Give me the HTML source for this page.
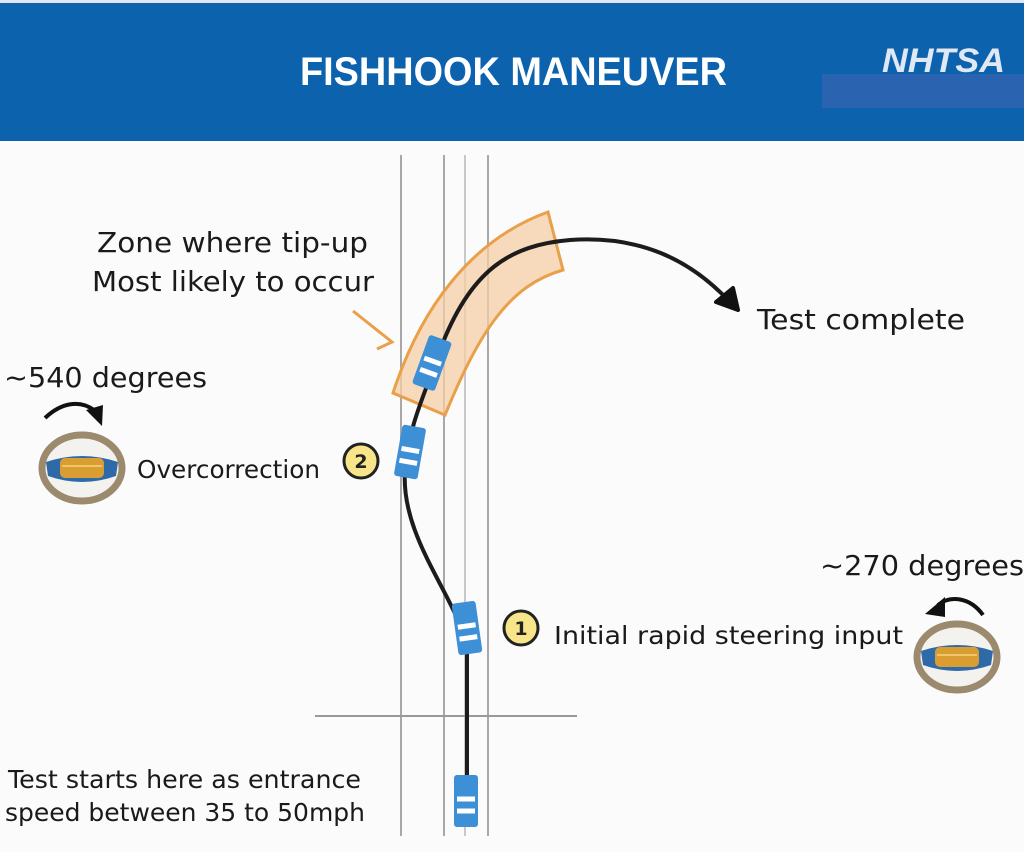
<!DOCTYPE html>
<html><head><meta charset="utf-8"><style>
body{margin:0;width:1024px;height:848px;background:#fbfbfb;overflow:hidden;font-family:"DejaVu Sans","Liberation Sans",sans-serif}
</style></head><body>
<svg width="1024" height="848" viewBox="0 0 1024 848" xmlns="http://www.w3.org/2000/svg">
<rect x="0" y="0" width="1024" height="3" fill="#dfe6ee"/>
<rect x="0" y="3" width="1024" height="138" fill="#0c62ad"/>
<rect x="822" y="74" width="202" height="34" fill="#2a64b0"/>
<text x="300" y="85" font-family="Liberation Sans,sans-serif" font-weight="bold" font-size="40" fill="#fff" textLength="427" lengthAdjust="spacingAndGlyphs">FISHHOOK  MANEUVER</text>
<text x="882" y="72" font-family="Liberation Sans,sans-serif" font-weight="bold" font-style="italic" font-size="34" fill="#dfe8f3" textLength="123" lengthAdjust="spacingAndGlyphs">NHTSA</text>
<g stroke="#a8a8a8" stroke-width="2">
<line x1="401" y1="155" x2="401" y2="836"/>
<line x1="444" y1="155" x2="444" y2="836"/>
<line x1="465" y1="155" x2="465" y2="836" stroke="#c8c8c8"/>
<line x1="488" y1="155" x2="488" y2="836"/>
<line x1="315" y1="716" x2="577" y2="716" stroke="#999"/>
</g>
<path d="M393,393 C420,310 470,240 548,212 L563,270 C510,285 480,330 445,415 Z" fill="#f6cfa6" fill-opacity="0.75" stroke="#e9a04a" stroke-width="3"/>
<path d="M353,311 L392,342 L377,349" fill="none" stroke="#e9a04a" stroke-width="3"/>
<path d="M467,790 L467,650 C460,600 400,540 405,470 C410,420 425,395 440,350 C470,270 510,245 570,240 C640,235 690,260 728,300" fill="none" stroke="#1c1c1c" stroke-width="4"/>
<path d="M738,310 L716,302 L733,288 Z" fill="#111" stroke="#111" stroke-width="4" stroke-linejoin="round"/>
<g>
<g transform="translate(467,628) rotate(-8)"><rect x="-12" y="-26" width="24" height="52" rx="3" fill="#3d8fd6"/><path d="M-9,-2 h18 M-9,10 h18" stroke="#fff" stroke-width="5"/></g>
<g transform="translate(410,452) rotate(10)"><rect x="-12" y="-26" width="24" height="52" rx="3" fill="#3d8fd6"/><path d="M-9,-2 h18 M-9,10 h18" stroke="#fff" stroke-width="5"/></g>
<g transform="translate(432,363) rotate(20)"><rect x="-12" y="-26" width="24" height="52" rx="3" fill="#3d8fd6"/><path d="M-9,-2 h18 M-9,10 h18" stroke="#fff" stroke-width="5"/></g>
<g transform="translate(466,801)"><rect x="-12" y="-26" width="24" height="52" rx="3" fill="#3d8fd6"/><path d="M-9,-2 h18 M-9,10 h18" stroke="#fff" stroke-width="5"/></g>
</g>
<circle cx="361" cy="461" r="17" fill="#f8e58a" stroke="#222" stroke-width="3"/>
<text x="361" y="468" text-anchor="middle" font-size="19" font-weight="bold" fill="#222">2</text>
<circle cx="521" cy="628" r="17" fill="#f8e58a" stroke="#222" stroke-width="3"/>
<text x="521" y="635" text-anchor="middle" font-size="19" font-weight="bold" fill="#222">1</text>
<g transform="translate(82,468)">
<ellipse rx="40" ry="33" fill="#f4f2ee" stroke="#9b8a6e" stroke-width="7"/>
<path d="M-36,-6 Q0,-18 36,-6 L34,8 Q0,20 -34,8 Z" fill="#2e6aa8"/>
<rect x="-22" y="-10" width="44" height="20" rx="5" fill="#d99d32"/>
<path d="M-20,-2 h40" stroke="#f0c66a" stroke-width="2"/>
</g>
<g transform="translate(957,657)">
<ellipse rx="40" ry="33" fill="#f4f2ee" stroke="#9b8a6e" stroke-width="7"/>
<path d="M-36,-6 Q0,-18 36,-6 L34,8 Q0,20 -34,8 Z" fill="#2e6aa8"/>
<rect x="-22" y="-10" width="44" height="20" rx="5" fill="#d99d32"/>
<path d="M-20,-2 h40" stroke="#f0c66a" stroke-width="2"/>
</g>
<path d="M45,418 C62,402 80,400 94,410" fill="none" stroke="#111" stroke-width="4"/>
<path d="M86,410 L103,405 L102,426 Z" fill="#111"/>
<path d="M983,615 C970,597 950,595 938,605" fill="none" stroke="#111" stroke-width="4"/>
<path d="M945,597 L925,614 L945,617 Z" fill="#111"/>
<g font-size="28" fill="#1a1a1a">
<text x="97" y="252" textLength="271" lengthAdjust="spacingAndGlyphs">Zone where tip-up</text>
<text x="92" y="291" textLength="282" lengthAdjust="spacingAndGlyphs">Most likely to occur</text>
<text x="757" y="329" textLength="208" lengthAdjust="spacingAndGlyphs">Test complete</text>
<text x="4" y="387" textLength="203" lengthAdjust="spacingAndGlyphs">~540 degrees</text>
<text x="820" y="575" textLength="204" lengthAdjust="spacingAndGlyphs">~270 degrees</text>
</g>
<g font-size="25" fill="#1a1a1a">
<text x="137" y="478" textLength="183" lengthAdjust="spacingAndGlyphs">Overcorrection</text>
<text x="554" y="644" textLength="349" lengthAdjust="spacingAndGlyphs">Initial rapid steering input</text>
<text x="8" y="788" textLength="353" lengthAdjust="spacingAndGlyphs">Test starts here as entrance</text>
<text x="5" y="821" textLength="360" lengthAdjust="spacingAndGlyphs">speed between 35 to 50mph</text>
</g>
</svg>
</body></html>
